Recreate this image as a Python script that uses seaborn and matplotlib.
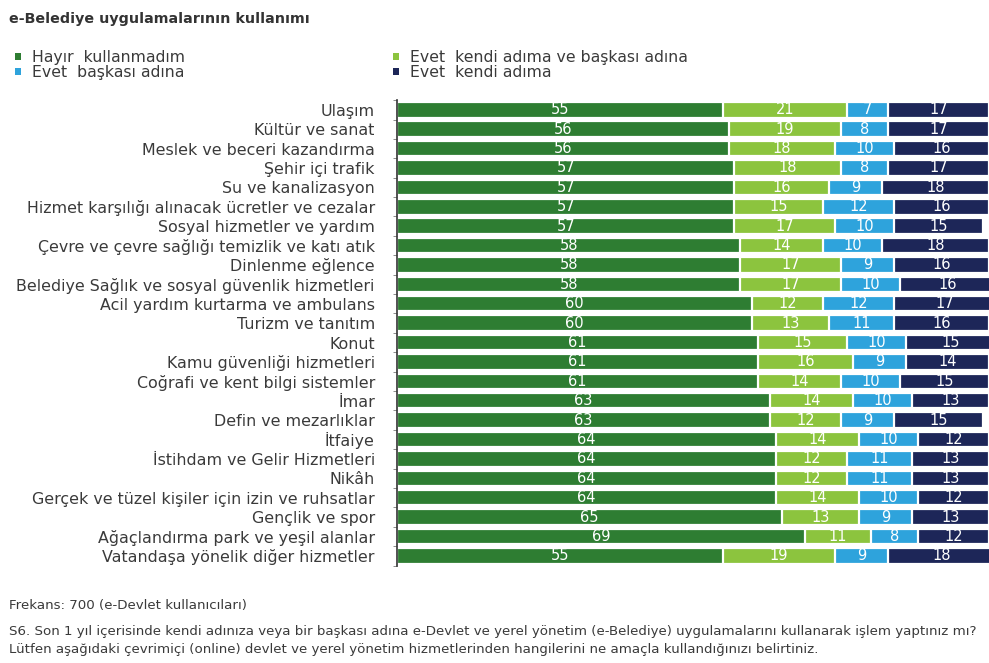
import numpy as np
import pandas as pd
import matplotlib
matplotlib.use("Agg")
import matplotlib.pyplot as plt
import seaborn as sns
from matplotlib.patches import Patch

categories = [
    "Ulaşım", "Kültür ve sanat", "Meslek ve beceri kazandırma", "Şehir içi trafik",
    "Su ve kanalizasyon", "Hizmet karşılığı alınacak ücretler ve cezalar",
    "Sosyal hizmetler ve yardım", "Çevre ve çevre sağlığı temizlik ve katı atık",
    "Dinlenme eğlence", "Belediye Sağlık ve sosyal güvenlik hizmetleri",
    "Acil yardım kurtarma ve ambulans", "Turizm ve tanıtım", "Konut",
    "Kamu güvenliği hizmetleri", "Coğrafi ve kent bilgi sistemler", "İmar",
    "Defin ve mezarlıklar", "İtfaiye", "İstihdam ve Gelir Hizmetleri", "Nikâh",
    "Gerçek ve tüzel kişiler için izin ve ruhsatlar", "Gençlik ve spor",
    "Ağaçlandırma park ve yeşil alanlar", "Vatandaşa yönelik diğer hizmetler",
]
hayir = [55, 56, 56, 57, 57, 57, 57, 58, 58, 58, 60, 60, 61, 61, 61, 63, 63, 64, 64, 64, 64, 65, 69, 55]
kendi_ve_baskasi = [21, 19, 18, 18, 16, 15, 17, 14, 17, 17, 12, 13, 15, 16, 14, 14, 12, 14, 12, 12, 14, 13, 11, 19]
baskasi = [7, 8, 10, 8, 9, 12, 10, 10, 9, 10, 12, 11, 10, 9, 10, 10, 9, 10, 11, 11, 10, 9, 8, 9]
kendi = [17, 17, 16, 17, 18, 16, 15, 18, 16, 16, 17, 16, 15, 14, 15, 13, 15, 12, 13, 13, 12, 13, 12, 18]

series_names = ["Hayır  kullanmadım", "Evet  kendi adıma ve başkası adına",
                "Evet  başkası adına", "Evet  kendi adıma"]
series_vals = [hayir, kendi_ve_baskasi, baskasi, kendi]
colors = ["#2E7D32", "#8CC43E", "#2EA3DC", "#1D2658"]

sns.set_theme(style="white")
plt.rcParams["font.family"] = ["DejaVu Sans"]

fig = plt.figure(figsize=(9.89, 6.63), dpi=100)
ax = fig.add_axes([0.4014, 0.147, 0.5986, 0.702])

cum = np.zeros(len(categories))
cums = []
for vals in series_vals:
    cum = cum + np.array(vals)
    cums.append(cum.copy())

# draw from largest cumulative to smallest so each layer shows its segment
for i in range(len(series_vals) - 1, -1, -1):
    d = pd.DataFrame({"cat": categories, "val": cums[i]})
    sns.barplot(data=d, y="cat", x="val", orient="h", color=colors[i],
                saturation=1, width=0.8, edgecolor="white", linewidth=1.6, ax=ax)

for i, vals in enumerate(series_vals):
    for r, v in enumerate(vals):
        ax.text(cums[i][r] - v / 2, r, str(v), ha="center", va="center",
                color="white", fontsize=10.5)

ax.set_xlim(0, 100)
ax.set_ylim(len(categories) - 0.5, -0.5)
ax.set_xlabel("")
ax.set_ylabel("")
ax.set_xticks([])
ax.tick_params(axis="y", length=0, pad=16, labelsize=11.4, labelcolor="#3a3a3a")
ax.set_yticks(np.arange(len(categories) + 1) - 0.5, minor=True)
ax.tick_params(axis="y", which="minor", length=3, color="#777777", width=0.6, left=True)
for s in ["top", "right", "bottom"]:
    ax.spines[s].set_visible(False)
ax.spines["left"].set_color("#333333")
ax.spines["left"].set_linewidth(1.2)

# legend
h = [Patch(facecolor=c, edgecolor="none") for c in colors]
common = dict(loc="upper left", frameon=False, fontsize=11.3, handlelength=0.4,
              handleheight=0.4, handletextpad=0.7, labelspacing=0.0,
              labelcolor="#3a3a3a", borderpad=0.2)
leg1 = fig.legend([h[0], h[2]], [series_names[0], series_names[2]],
                  bbox_to_anchor=(0.004, 0.941), **common)
leg2 = fig.legend([h[1], h[3]], [series_names[1], series_names[3]],
                  bbox_to_anchor=(0.386, 0.941), **common)

fig.text(0.009, 0.982, "e-Belediye uygulamalarının kullanımı", fontsize=10.3,
         fontweight="bold", color="#333333", va="top", ha="left")
fig.text(0.009, 0.086, "Frekans: 700 (e-Devlet kullanıcıları)", fontsize=9.6,
         color="#3a3a3a", va="center", ha="left")
fig.text(0.009, 0.047,
         "S6. Son 1 yıl içerisinde kendi adınıza veya bir başkası adına e-Devlet ve yerel yönetim (e-Belediye) uygulamalarını kullanarak işlem yaptınız mı?",
         fontsize=9.6, color="#3a3a3a", va="center", ha="left")
fig.text(0.009, 0.021,
         "Lütfen aşağıdaki çevrimiçi (online) devlet ve yerel yönetim hizmetlerinden hangilerini ne amaçla kullandığınızı belirtiniz.",
         fontsize=9.6, color="#3a3a3a", va="center", ha="left")

fig.savefig("out.png", dpi=100)
